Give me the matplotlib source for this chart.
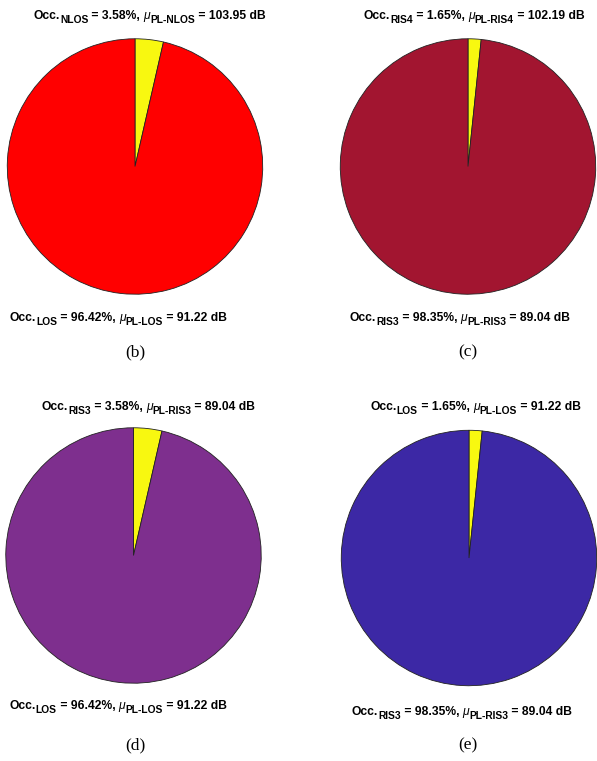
import matplotlib
matplotlib.use("Agg")
import matplotlib.pyplot as plt

# Occupancy shares (small slice first, drawn clockwise from 12 o'clock)
panels = ['(b)', '(c)', '(d)', '(e)']
small_share = [3.58, 1.65, 3.58, 1.65]
large_share = [96.42, 98.35, 96.42, 98.35]
small_name = ['NLOS', 'RIS4', 'RIS3', 'LOS']
large_name = ['LOS', 'RIS3', 'LOS', 'RIS3']
small_pl = [103.95, 102.19, 89.04, 91.22]
large_pl = [91.22, 89.04, 91.22, 89.04]
main_colors = ['#ff0000', '#a21530', '#7e2f8e', '#3c28a5']
small_color = '#f8f810'

W, H = 597, 761
fig = plt.figure(figsize=(W / 100, H / 100), dpi=100)
renderer = fig.canvas.get_renderer()

# pie centre (px), radius (px), label anchors (px, centre x / baseline y)
centres = [(135, 166.5), (468, 166.5), (133.5, 555.5), (469, 558)]
radius = 129
top_lab = [(149.5, 19), (474, 19), (148.5, 410), (475.5, 410)]
bot_lab = [(118.5, 321), (460, 321), (118, 709), (462, 715)]
cap_pos = [(135, 352), (468, 352), (135, 745), (468, 745)]

MAIN_FS = 8.7
SUB_FS = 7.4
SUB_DROP = 4.0  # px


def rich_label(xc, yb, name, share, pl):
    """Draw 'Occ._name = share%, mu_PL-name = pl dB' centred at xc on baseline yb."""
    pieces = [
        ('Occ.', MAIN_FS, 'bold', 'normal', 0),
        (name, SUB_FS, 'bold', 'normal', SUB_DROP),
        (' = %.2f%%, ' % share, MAIN_FS, 'bold', 'normal', 0),
        ('\u03bc', MAIN_FS, 'normal', 'italic', 0),
        ('PL-' + name, SUB_FS, 'bold', 'normal', SUB_DROP),
        (' = %.2f dB' % pl, MAIN_FS, 'bold', 'normal', 0),
    ]
    texts = []
    widths = []
    for s, fs, fw, st, drop in pieces:
        t = fig.text(0, 0, s, fontsize=fs, fontweight=fw, fontstyle=st,
                     family='Liberation Sans', ha='left', va='baseline')
        w = t.get_window_extent(renderer).width
        texts.append((t, drop))
        widths.append(w)
    x = xc - sum(widths) / 2
    for (t, drop), w in zip(texts, widths):
        t.set_position((x / W, 1 - (yb + drop) / H))
        x += w


for i in range(4):
    cx, cy = centres[i]
    ax = fig.add_axes([(cx - radius) / W, 1 - (cy + radius) / H,
                       2 * radius / W, 2 * radius / H])
    ax.pie([small_share[i], large_share[i]], colors=[small_color, main_colors[i]],
           startangle=90, counterclock=False, radius=1,
           wedgeprops=dict(edgecolor='#222222', linewidth=0.6))
    ax.set_xlim(-1.01, 1.01)
    ax.set_ylim(-1.01, 1.01)
    ax.set_aspect('equal')
    ax.axis('off')

    rich_label(*top_lab[i], small_name[i], small_share[i], small_pl[i])
    rich_label(*bot_lab[i], large_name[i], large_share[i], large_pl[i])
    px, py = cap_pos[i]
    fig.text(px / W, 1 - py / H, panels[i], ha='center', va='center',
             fontsize=12.5, family='Liberation Serif')

fig.savefig('out.png', dpi=100)
